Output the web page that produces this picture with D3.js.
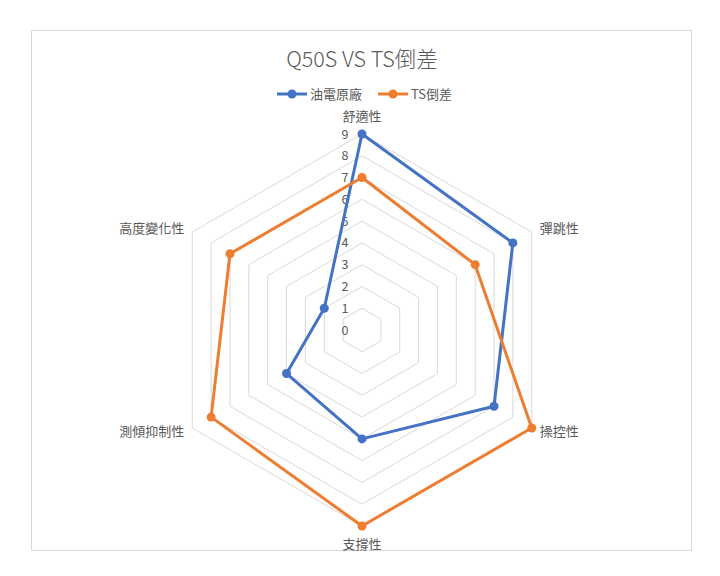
<!DOCTYPE html>
<html>
<head>
<meta charset="utf-8">
<script src="https://cdn.jsdelivr.net/npm/d3@7"></script>
<style>
  body { margin: 0; background: #fff; }
  text { font-family: "Noto Sans CJK TC", "Noto Sans", sans-serif; fill: #595959; }
</style>
</head>
<body>
<div id="chart"></div>
<script>
const categories = ['舒適性', '彈跳性', '操控性', '支撐性', '測傾抑制性', '高度變化性'];
const seriesNames = ['油電原廠', 'TS倒差'];
const seriesColors = ['#4472C4', '#ED7D31'];
const factoryValues = [9, 8, 7, 5, 4, 2];
const tsValues = [7, 6, 9, 9, 8, 7];
const tickValues = [0, 1, 2, 3, 4, 5, 6, 7, 8, 9];

const width = 720;
const height = 576;
const cx = 362;
const cy = 330;
const radius = 196;

const svg = d3.select("#chart")
    .append("svg")
    .attr("width", width)
    .attr("height", height);

// chart area border
svg.append("rect")
    .attr("x", 31.5)
    .attr("y", 30.5)
    .attr("width", 660)
    .attr("height", 520)
    .attr("fill", "#fff")
    .attr("stroke", "#d9d9d9")
    .attr("stroke-width", 1);

svg.append("text")
    .attr("x", cx)
    .attr("y", 67)
    .attr("text-anchor", "middle")
    .attr("font-size", 21.5)
    .attr("font-weight", 300)
    .text("Q50S VS TS倒差");

const r = d3.scaleLinear().domain([0, 9]).range([0, radius]);
const angle = d3.scaleLinear().domain([0, categories.length]).range([0, 2 * Math.PI]);

function point(i, v) {
    const a = angle(i);
    return [cx + Math.sin(a) * r(v), cy - Math.cos(a) * r(v)];
}

const g = svg.append("g");

// grid rings
tickValues.filter(t => t > 0).forEach(t => {
    g.append("path")
        .attr("d", d3.line()(categories.map((c, i) => point(i, t))) + "Z")
        .attr("fill", "none")
        .attr("stroke", "#d9d9d9")
        .attr("stroke-width", 1);
});

// tick labels
g.selectAll(".tick-label")
    .data(tickValues)
    .enter()
    .append("text")
    .attr("class", "tick-label")
    .attr("x", cx - 17)
    .attr("y", d => cy - r(d) + 4.5)
    .attr("text-anchor", "middle")
    .attr("font-size", 12.5)
    .text(d => d);

// category labels
const labelPos = [
    {dx: 0, dy: -13, anchor: "middle"},
    {dx: 8, dy: 1, anchor: "start"},
    {dx: 8, dy: 8, anchor: "start"},
    {dx: 0, dy: 23, anchor: "middle"},
    {dx: -8, dy: 8, anchor: "end"},
    {dx: -8, dy: 1, anchor: "end"}
];
g.selectAll(".cat-label")
    .data(categories)
    .enter()
    .append("text")
    .attr("class", "cat-label")
    .attr("x", (d, i) => point(i, 9)[0] + labelPos[i].dx)
    .attr("y", (d, i) => point(i, 9)[1] + labelPos[i].dy)
    .attr("text-anchor", (d, i) => labelPos[i].anchor)
    .attr("font-size", 13)
    .text(d => d);

// series
[factoryValues, tsValues].forEach((vals, s) => {
    const pts = vals.map((v, i) => point(i, v));
    g.append("path")
        .attr("d", d3.line()(pts) + "Z")
        .attr("fill", "none")
        .attr("stroke", seriesColors[s])
        .attr("stroke-width", 3)
        .attr("stroke-linejoin", "round");
    g.selectAll(".dot" + s)
        .data(pts)
        .enter()
        .append("circle")
        .attr("cx", d => d[0])
        .attr("cy", d => d[1])
        .attr("r", 4.5)
        .attr("fill", seriesColors[s]);
});

// legend
const legendX = [277, 378];
seriesNames.forEach((name, s) => {
    const lg = svg.append("g").attr("transform", `translate(${legendX[s]},94)`);
    lg.append("line")
        .attr("x1", 0).attr("x2", 30)
        .attr("y1", 0).attr("y2", 0)
        .attr("stroke", seriesColors[s])
        .attr("stroke-width", 3);
    lg.append("circle")
        .attr("cx", 15).attr("cy", 0).attr("r", 4.5)
        .attr("fill", seriesColors[s]);
    lg.append("text")
        .attr("x", 33)
        .attr("y", 4.5)
        .attr("font-size", 13)
        .text(name);
});
</script>
</body>
</html>
